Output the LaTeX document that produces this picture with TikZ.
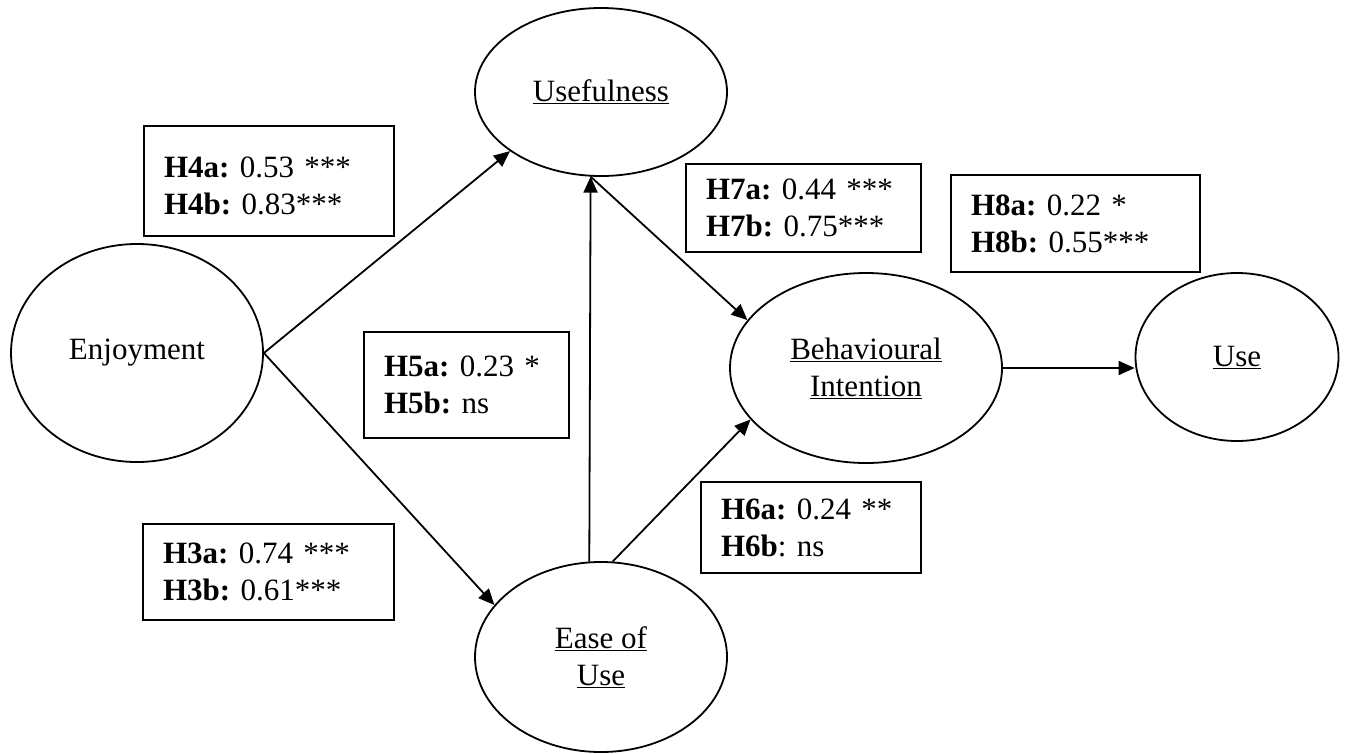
\documentclass[tikz,border=0pt]{standalone}
\usepackage{fontspec}
\setmainfont{Liberation Serif}
\usetikzlibrary{shapes.geometric,arrows.meta}
\frenchspacing
\begin{document}
\begin{tikzpicture}[
        x=1pt, y=-1pt,
        line width=1.8pt,
        font=\fontsize{31}{37}\selectfont
    ]
    \tikzset{
        construct/.style = {ellipse, draw=black, align=center, inner sep=0pt},
        hypbox/.style = {rectangle, draw=black, align=left, inner xsep=20pt, inner ysep=0pt},
        link/.style = {-{Triangle[length=16pt,width=14pt]}},
    }
    \useasboundingbox (0,0) rectangle (1351,753);
    \node[construct, minimum width=252pt, minimum height=218pt] at (137,353) (enj) {Enjoyment};
    \node[construct, minimum width=252pt, minimum height=168pt] at (601,92) (usef) {\underline{Usefulness}};
    \node[construct, minimum width=252pt, minimum height=190pt] at (601,657) (ease) {\underline{Ease of}\\\underline{Use}};
    \node[construct, minimum width=272pt, minimum height=190pt] at (866,368) (bi) {\underline{Behavioural}\\\underline{Intention}};
    \node[construct, minimum width=203pt, minimum height=168pt] at (1237,357) (use) {\underline{Use}};
    %
    \node[hypbox, text width=210pt, minimum height=110pt, text depth=27pt] at (269,181) (h4) {\textbf{H4a:} 0.53 ***\\\textbf{H4b:} 0.83***};
    \node[hypbox, text width=165pt, minimum height=106pt] at (466.5,385) (h5) {\textbf{H5a:} 0.23 *\\\textbf{H5b:} ns};
    \node[hypbox, text width=211pt, minimum height=96pt] at (268.5,572) (h3) {\textbf{H3a:} 0.74 ***\\\textbf{H3b:} 0.61***};
    \node[hypbox, text width=180pt, minimum height=91pt] at (811,527.5) (h6) {\textbf{H6a:} 0.24 **\\\textbf{H6b}: ns};
    \node[hypbox, text width=195pt, minimum height=88pt] at (803.5,208) (h7) {\textbf{H7a:} 0.44 ***\\\textbf{H7b:} 0.75***};
    \node[hypbox, text width=209pt, minimum height=97pt] at (1075.5,223.5) (h8) {\textbf{H8a:} 0.22 *\\\textbf{H8b:} 0.55***};
    %
    \draw[link] (enj.east) -- (usef.213);
    \draw[link] (enj.east) -- (ease.154);
    \draw[link] (ease.97) -- (usef.263);
    \draw[link] (usef.263) -- (bi.158);
    \draw[link] (ease.83) -- (bi.204);
    \draw[link] (bi.east) -- (bi.east -| use.west);
\end{tikzpicture}
\end{document}
